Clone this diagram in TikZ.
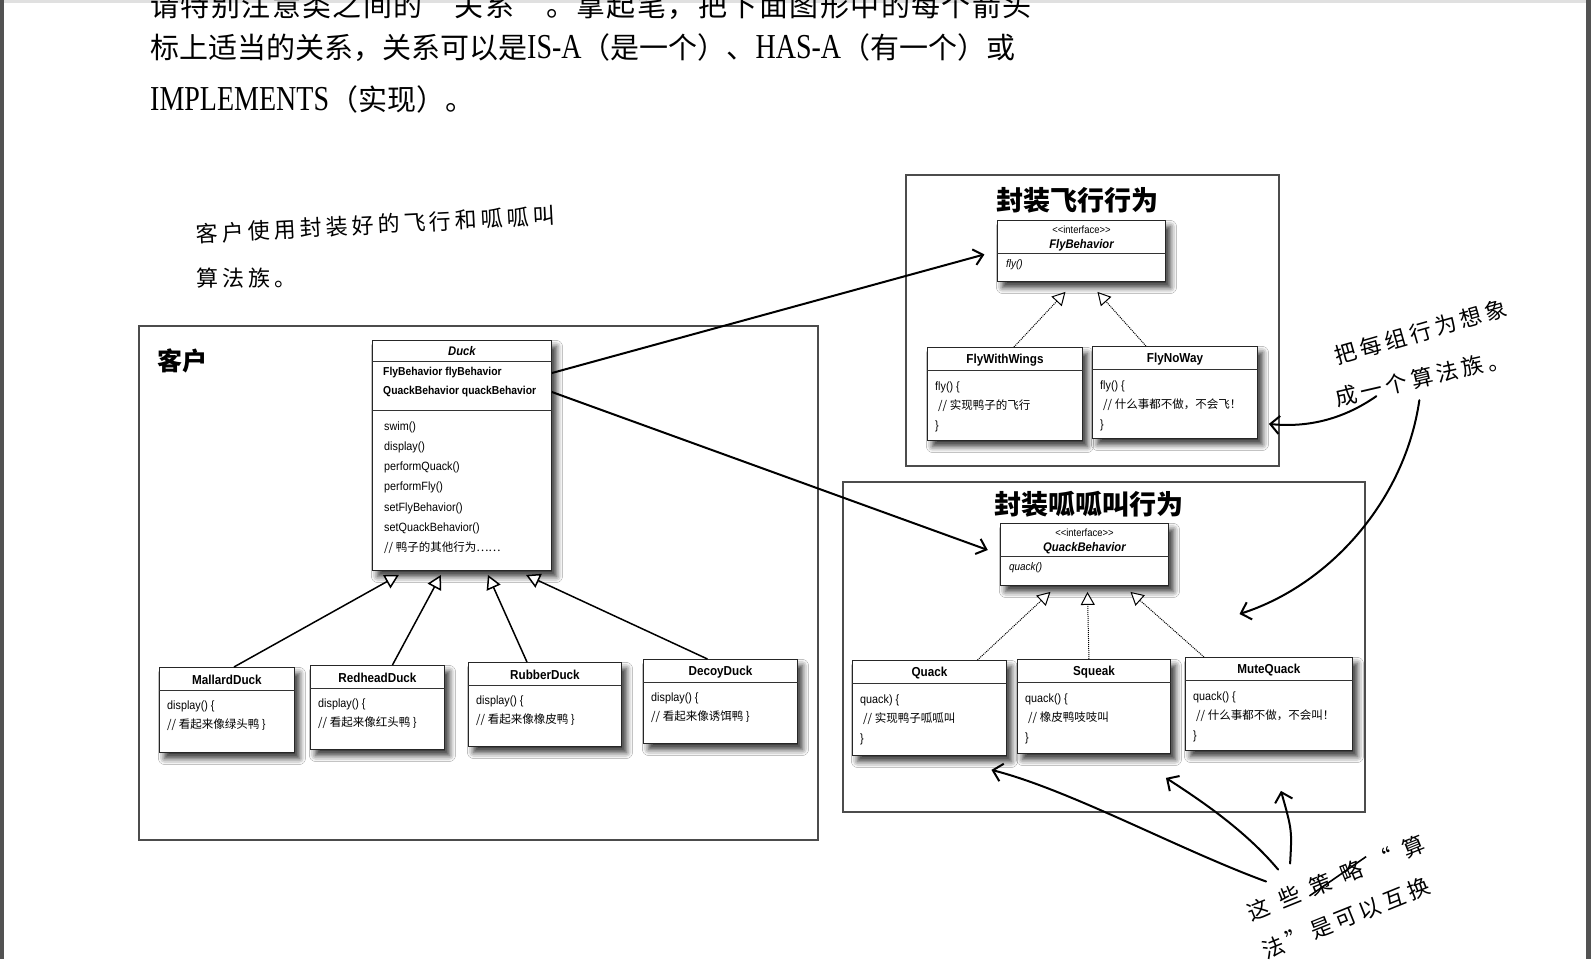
\documentclass[tikz,border=0pt]{standalone}
\usepackage{fontspec}
\setmainfont{Liberation Sans}
\newfontfamily\uml[FakeStretch=0.9]{Liberation Sans}
\newfontfamily\cjk{Noto Sans CJK SC}
\newfontfamily\lat[FakeStretch=0.8]{Liberation Serif}
\usetikzlibrary{calc,arrows.meta,shadows.blur}

\def\zhtxt{\cjk\fontsize{29}{29}\selectfont}
\def\entxt{\lat\fontsize{35}{35}\selectfont}

\tikzstyle{family}   = [draw=black!70, line width=1.5pt, inner sep=0pt, anchor=north west]
\tikzstyle{famtitle} = [inner sep=0pt, font=\cjk\bfseries\fontsize{27}{27}\selectfont]
\tikzstyle{cls}      = [draw=black!85, fill=white, line width=0.9pt, inner sep=0pt, anchor=north west,
                        blur shadow={shadow xshift=5pt, shadow yshift=-6pt, shadow blur radius=6pt, shadow opacity=80}]
\tikzstyle{sep}      = [draw=black!80, line width=0.7pt]
\tikzstyle{ctitle}   = [inner sep=0pt, font=\uml\bfseries\fontsize{13}{13}\selectfont]
\tikzstyle{ititle}   = [inner sep=0pt, font=\uml\bfseries\itshape\fontsize{12.5}{12.5}\selectfont]
\tikzstyle{stereo}   = [inner sep=0pt, font=\uml\fontsize{10.5}{10.5}\selectfont]
\tikzstyle{attr}     = [inner sep=0pt, anchor=west, font=\uml\bfseries\fontsize{11.5}{11.5}\selectfont]
\tikzstyle{crow}     = [inner sep=0pt, anchor=west, font=\uml\fontsize{12}{12}\selectfont]
\tikzstyle{ccn}      = [inner sep=0pt, anchor=west, font=\cjk\fontsize{11.5}{11.5}\selectfont]
\tikzstyle{isa}      = [line width=1.5pt, -{Triangle[length=14pt, width=15pt, fill=white]}]
\tikzstyle{impl}     = [line width=1pt, densely dotted, -{Triangle[length=13pt, width=14pt, fill=white]}]
\tikzstyle{hasa}     = [line width=2pt, shorten >=13pt, -{Straight Barb[length=9pt, width=16pt]}]
\tikzstyle{hand}     = [inner sep=0pt, font=\cjk\fontsize{22}{22}\selectfont\addfontfeature{LetterSpace=18}]
\tikzstyle{scrawl}   = [line width=2pt, line cap=round, -{Straight Barb[length=9pt, width=18pt]}]

% name, north west corner, width, height, title
\def\klass#1#2#3#4#5{
  \node[cls, minimum width=#3pt, minimum height=#4pt] (#1) at (#2) {};
  \node[ctitle] (#1-t) at ($(#1.north)+(0,13)$) {#5};
  \draw[sep] ($(#1.north west)+(0,23)$) -- ($(#1.north east)+(0,23)$);
}
% name, north west corner, width, height, title, operation
\def\iface#1#2#3#4#5#6{
  \node[cls, minimum width=#3pt, minimum height=#4pt] (#1) at (#2) {};
  \node[stereo] (#1-s) at ($(#1.north)+(0,10)$) {{<}{<}interface{>}{>}};
  \node[ititle] (#1-t) at ($(#1.north)+(0,25)$) {#5};
  \draw[sep] ($(#1.north west)+(0,33)$) -- ($(#1.north east)+(0,33)$);
  \node[crow, font=\uml\itshape\fontsize{11}{11}\selectfont] (#1-o) at ($(#1.north west)+(9,45)$) {#6};
}

\begin{document}
\begin{tikzpicture}[x=1pt, y=-1pt]
  \useasboundingbox (0,0) rectangle (1591,959);
  \clip (0,0) rectangle (1591,959);
  \fill[white] (0,0) rectangle (1591,959);
  \fill[black!68] (0,0) rectangle (4,959);
  \fill[black!68] (1586,0) rectangle (1591,959);
  \fill[black!12] (4,0) rectangle (1586,3);

  % exercise text
  \node[anchor=base west, inner sep=0pt] (task1) at (150,16)
    {\zhtxt\addfontfeature{LetterSpace=5}请特别注意类之间的“关系”。拿起笔，把下面图形中的每个箭头};
  \node[anchor=base west, inner sep=0pt] (task2) at (150,58)
    {\zhtxt 标上适当的关系，关系可以是\entxt IS-A\zhtxt （是一个）、\entxt HAS-A\zhtxt （有一个）或};
  \node[anchor=base west, inner sep=0pt] (task3) at (150,110) {\entxt IMPLEMENTS\zhtxt （实现）。};

  % families
  \node[family, minimum width=679pt, minimum height=514pt] (client) at (138,325) {};
  \node[family, minimum width=373pt, minimum height=291pt] (flyfam) at (905,174) {};
  \node[family, minimum width=522pt, minimum height=330pt] (quackfam) at (842,481) {};
  \node[inner sep=0pt, font=\cjk\bfseries\fontsize{25}{25}\selectfont] (clientlbl) at (182,361) {客户};
  \node[famtitle] (flytitle) at (1077,200) {封装飞行行为};
  \node[famtitle] (quacktitle) at (1089,504) {封装呱呱叫行为};

  % client
  \node[cls, minimum width=179pt, minimum height=230pt] (duck) at (372,340) {};
  \node[ititle] (duck-t) at ($(duck.north)+(0,11)$) {Duck};
  \draw[sep] ($(duck.north west)+(0,21)$) -- ($(duck.north east)+(0,21)$);
  \node[attr] (duck-a1) at ($(duck.north west)+(11,33)$) {FlyBehavior flyBehavior};
  \node[attr] (duck-a2) at ($(duck.north west)+(11,52)$) {QuackBehavior quackBehavior};
  \draw[sep] ($(duck.north west)+(0,70)$) -- ($(duck.north east)+(0,70)$);
  \foreach \m [count=\i] in {swim(), display(), performQuack(), performFly(), setFlyBehavior(), setQuackBehavior()}
    \node[crow] (duck-m\i) at ($(duck.north west)+(12,67+20.2*\i)$) {\m};
  \node[ccn] (duck-m7) at ($(duck.north west)+(12,208)$) {// 鸭子的其他行为……};

  \klass{mallard}{159,667}{135}{85}{MallardDuck}
  \klass{redhead}{310,665}{134}{84}{RedheadDuck}
  \klass{rubber}{468,662}{153}{84}{RubberDuck}
  \klass{decoy}{643,659}{154}{84}{DecoyDuck}
  \foreach \d/\what in {mallard/绿头鸭, redhead/红头鸭, rubber/橡皮鸭, decoy/诱饵鸭} {
    \node[crow] (\d-b1) at ($(\d.north west)+(8,39)$) {display() \{};
    \node[ccn] (\d-b2) at ($(\d.north west)+(8,58)$) {// 看起来像\what\ \}};
  }

  % behaviours
  \iface{flybeh}{997,220}{168}{61}{FlyBehavior}{fly()}
  \klass{flywings}{927,347}{155}{93}{FlyWithWings}
  \klass{flynoway}{1092,346}{165}{92}{FlyNoWay}
  \iface{quackbeh}{1000,523}{168}{62}{QuackBehavior}{quack()}
  \klass{quack}{852,660}{154}{95}{Quack}
  \klass{squeak}{1017,659}{153}{94}{Squeak}
  \klass{mute}{1185,657}{167}{93}{MuteQuack}
  \foreach \c/\op/\what in {flywings/fly()/实现鸭子的飞行, flynoway/fly()/什么事都不做，不会飞！,
      quack/quack)/实现鸭子呱呱叫, squeak/quack()/橡皮鸭吱吱叫, mute/quack()/什么事都不做，不会叫！} {
    \node[crow] (\c-b1) at ($(\c.north west)+(8,40)$) {\op\ \{};
    \node[ccn] (\c-b2) at ($(\c.north west)+(11,59)$) {// \what};
    \node[crow] (\c-b3) at ($(\c.north west)+(8,79)$) {\}};
  }

  % relations
  \draw[isa] ($(mallard.north)+(7,0)$) -- ($(duck.south)+(-63,4)$);
  \draw[isa] ($(redhead.north)+(15,0)$) -- ($(duck.south)+(-21,4)$);
  \draw[isa] ($(rubber.north)+(-18,0)$) -- ($(duck.south)+(26,4)$);
  \draw[isa] ($(decoy.north)+(-13,0)$) -- ($(duck.south)+(64,4)$);
  \draw[impl] ($(flywings.north)+(9,0)$) -- ($(flybeh.south)+(-16,10)$);
  \draw[impl] ($(flynoway.north)+(-29,0)$) -- ($(flybeh.south)+(16,10)$);
  \draw[impl] ($(quack.north)+(48,0)$) -- ($(quackbeh.south)+(-34,6)$);
  \draw[impl] ($(squeak.north)+(-5,0)$) -- ($(quackbeh.south)+(3,6)$);
  \draw[impl] ($(mute.north)+(-65,0)$) -- ($(quackbeh.south)+(46,6)$);
  \draw[hasa] (duck.east |- duck-a1) -- (flybeh.west);
  \draw[hasa] (duck.east |- duck-a2) -- (quackbeh.west);

  % handwritten notes
  \node[hand, rotate=3, anchor=west] (note1a) at (196,234) {客户使用封装好的飞行和呱呱叫};
  \node[hand, anchor=west] (note1b) at (196,278) {算法族。};
  \node[hand, rotate=16] (note2a) at (1421,332) {把每组行为想象};
  \node[hand, rotate=13] (note2b) at (1422,378) {成一个算法族。};
  \node[hand, rotate=22, font=\cjk\fontsize{22}{22}\selectfont\addfontfeature{LetterSpace=52}] (note3a) at (1336,878) {这些策略“算};
  \draw[line width=1.6pt] ($(note3a.west)!0.36!(note3a.east)+(-2,8)$) -- ($(note3a.west)!0.66!(note3a.east)+(2,-10)$);
  \node[hand, rotate=22] (note3b) at (1346,918) {法”是可以互换};
  \draw[scrawl] ($(note2b.south)+(-48,8)$) .. controls (1345,418) and (1310,428) .. ($(flynoway.south east)+(11,-15)$);
  \draw[scrawl] ($(note2b.south)+(-5,12)$) .. controls (1405,500) and (1330,585) .. ($(quackfam.north east)+(-126,133)$);
  \draw[scrawl] ($(note3a.west)+(18,-32)$) .. controls (1180,850) and (1070,790) .. ($(quack.south)+(62,14)$);
  \draw[scrawl] ($(note3a.west)+(30,-44)$) .. controls (1245,830) and (1200,800) .. ($(squeak.south)+(72,24)$);
  \draw[scrawl] ($(note3a.west)+(42,-50)$) .. controls (1292,830) .. ($(mute.south)+(12,40)$);
\end{tikzpicture}
\end{document}
